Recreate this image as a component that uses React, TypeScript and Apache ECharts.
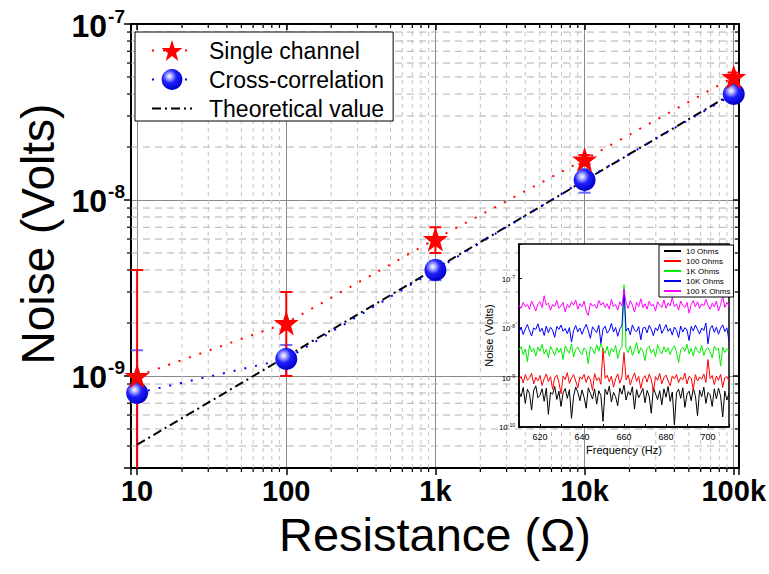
import React, { useEffect, useRef } from 'react';
import * as echarts from 'echarts';

// ---------- main plot data ----------
const resistances = [10, 100, 1000, 10000, 100000];
const singleChannel = [1.0e-9, 2.0e-9, 6.0e-9, 1.7e-8, 5.0e-8];
const singleChannelErr = [3.0e-9, 1.0e-9, 1.0e-9, 1.0e-9, 3.0e-9];
const crossCorrelation = [8.0e-10, 1.25e-9, 4.0e-9, 1.3e-8, 4.0e-8];
const crossCorrelationErr = [6.0e-10, 2.5e-10, 5.0e-10, 2.0e-9, 2.0e-9];
const theoretical = [4.07e-10, 1.29e-9, 4.07e-9, 1.29e-8, 4.07e-8];

const xTickValues = [10, 100, 1000, 10000, 100000];
const xTickLabels = ['10', '100', '1k', '10k', '100k'];
const minorMultipliers = [2, 3, 4, 5, 6, 7, 8, 9];
const xDecades = [1, 10, 100, 1000, 10000];
const yDecades = [1e-10, 1e-9, 1e-8];

const X_MIN = 9.1;
const X_MAX = 1.085e5;
const Y_MIN = 3e-10;
const Y_MAX = 1e-7;

// ---------- inset data (Noise vs frequency) ----------
const insetFreqStart = 610;
const insetFreqStep = 1;
const insetNames = ['10 Ohms', '100 Ohms', '1K Ohms', '10K Ohms', '100 K Ohms'];
const insetColors = ['#000000', '#ff0000', '#00ee00', '#0000ff', '#ff00ff'];
// units: 1e-10 V
const noise10Ohm = [
  5.2, 4.1, 6.3, 3.0, 5.8, 4.7, 2.2, 5.5, 6.8, 3.9,
  4.4, 5.9, 3.3, 6.1, 1.8, 5.0, 4.6, 6.6, 3.6, 5.3,
  2.6, 4.9, 6.0, 3.8, 5.7, 1.5, 4.2, 6.4, 5.1, 3.4,
  5.6, 4.0, 2.4, 6.2, 4.8, 3.7, 5.9, 2.9, 5.4, 4.3,
  1.3, 5.8, 4.5, 6.7, 3.2, 5.0, 4.1, 2.7, 6.1, 4.6,
  7.0, 3.5, 5.2, 4.4, 6.5, 2.3, 5.7, 3.9, 4.8, 6.0,
  3.1, 5.5, 4.2, 1.9, 6.3, 4.7, 3.6, 5.4, 2.8, 5.9,
  4.0, 6.6, 3.3, 5.1, 1.1, 4.9, 5.8, 3.8, 6.2, 2.5,
  4.6, 5.3, 3.4, 6.0, 4.3, 1.7, 5.6, 4.1, 6.4, 3.0,
  5.0, 4.5, 2.6, 5.9, 3.7, 6.1, 4.2, 1.6, 5.3, 3.5, 4.8,
];
// units: 1e-9 V
const noise100Ohm = [
  0.92, 1.05, 0.78, 1.15, 0.88, 0.97, 1.22, 0.74, 1.01, 0.86,
  1.10, 0.69, 0.95, 1.18, 0.83, 1.04, 0.58, 0.99, 1.12, 0.80,
  0.47, 1.07, 0.91, 1.25, 0.76, 0.98, 1.14, 0.85, 0.62, 1.03,
  0.93, 1.16, 0.79, 1.08, 0.90, 0.55, 1.20, 0.87, 1.00, 0.73,
  3.90, 0.96, 1.11, 0.82, 1.06, 0.64, 0.94, 1.19, 0.77, 1.02,
  3.20, 0.89, 1.13, 0.71, 0.97, 1.24, 0.84, 1.05, 0.60, 0.95,
  1.09, 0.81, 1.17, 0.92, 0.52, 1.04, 0.88, 1.21, 0.75, 0.99,
  1.12, 0.86, 0.68, 1.08, 0.94, 1.15, 0.79, 1.01, 0.90, 1.23,
  0.74, 1.06, 0.97, 0.57, 1.14, 0.85, 1.03, 0.92, 1.18, 0.80,
  2.30, 0.95, 1.10, 0.72, 1.07, 0.88, 1.16, 0.63, 0.99, 1.05, 0.84,
];
// units: 1e-9 V
const noise1kOhm = [
  3.6, 4.2, 2.9, 3.8, 2.1, 4.5, 3.3, 3.9, 2.7, 4.1,
  3.4, 4.7, 3.0, 3.7, 2.5, 4.3, 3.5, 2.8, 4.0, 3.2,
  3.9, 2.3, 4.4, 3.6, 3.1, 4.8, 2.6, 3.7, 4.1, 3.3,
  2.9, 4.0, 3.5, 1.9, 4.2, 3.8, 3.0, 4.6, 3.4, 4.9,
  3.7, 3.1, 4.3, 2.7, 3.9, 3.3, 4.5, 2.4, 3.6, 4.1,
  75, 3.8, 3.2, 4.4, 2.8, 3.6, 5.1, 3.0, 4.0, 3.4,
  2.2, 3.9, 4.3, 3.1, 3.7, 2.6, 4.6, 3.5, 3.0, 4.2,
  3.3, 4.0, 2.9, 3.8, 4.4, 3.2, 2.0, 3.6, 4.1, 3.4,
  4.7, 3.0, 3.9, 2.7, 4.2, 3.5, 3.1, 4.5, 2.8, 3.7,
  4.0, 3.3, 2.5, 4.3, 3.6, 3.9, 1.7, 4.1, 3.2, 3.8, 3.5,
];
// units: 1e-9 V
const noise10kOhm = [
  8.2, 10.5, 7.4, 9.6, 11.8, 8.8, 6.9, 10.1, 9.3, 12.2,
  8.5, 9.9, 7.1, 11.0, 8.0, 10.4, 9.1, 6.5, 10.8, 9.4,
  11.5, 8.6, 9.8, 7.7, 10.2, 5.2, 9.0, 11.2, 8.4, 10.0,
  7.5, 9.7, 11.9, 8.9, 6.2, 10.6, 9.2, 8.1, 11.4, 4.9,
  9.5, 10.9, 7.9, 9.0, 12.4, 8.3, 10.3, 6.8, 9.6, 11.1,
  60, 8.7, 10.0, 7.3, 11.6, 9.1, 8.4, 10.7, 5.8, 9.9,
  10.4, 8.0, 11.3, 9.4, 7.0, 10.1, 8.8, 12.0, 7.8, 9.5,
  11.7, 8.6, 9.8, 7.2, 10.5, 9.0, 6.4, 11.0, 8.3, 10.2,
  9.1, 5.6, 10.8, 8.7, 11.5, 9.3, 7.6, 10.0, 8.9, 12.6,
  4.8, 9.7, 11.2, 8.2, 10.4, 7.5, 9.9, 11.6, 8.5, 10.1, 5.5,
];
// units: 1e-8 V
const noise100kOhm = [
  2.9, 2.5, 3.3, 2.7, 3.0, 2.4, 3.5, 2.8, 2.2, 3.1,
  3.4, 2.6, 4.5, 2.9, 3.2, 2.3, 3.0, 2.7, 3.6, 2.5,
  2.8, 3.3, 2.1, 3.0, 2.6, 3.4, 2.9, 3.7, 2.4, 3.1,
  2.7, 3.5, 2.2, 1.8, 3.2, 2.8, 3.0, 2.5, 3.6, 2.9,
  3.3, 2.6, 3.1, 2.4, 3.8, 2.7, 3.0, 2.3, 3.4, 2.8,
  6.0, 3.2, 2.5, 3.6, 2.9, 2.1, 3.3, 2.7, 3.9, 2.6,
  3.1, 2.4, 3.5, 2.8, 3.0, 2.2, 3.4, 2.9, 2.6, 3.7,
  2.5, 3.2, 2.8, 4.2, 2.7, 3.1, 2.3, 3.5, 2.9, 2.6,
  3.3, 2.0, 3.0, 3.6, 2.7, 3.4, 2.5, 3.1, 2.8, 3.8,
  2.9, 2.4, 3.2, 2.7, 3.5, 2.2, 3.0, 4.4, 2.6, 3.3, 2.8,
];
const insetSeriesValues = [noise10Ohm, noise100Ohm, noise1kOhm, noise10kOhm, noise100kOhm];
const insetUnits = [1e-10, 1e-9, 1e-9, 1e-9, 1e-8];

const INSET_X_MIN = 610;
const INSET_X_MAX = 710;
const INSET_Y_MIN = 1e-10;
const INSET_Y_MAX = 5e-7;

const FONT = "'Liberation Sans', Arial, Helvetica, sans-serif";
const STAR = 'path://M50,0 L61.8,35.1 L98.5,35.1 L68.8,56.8 L79.4,91.5 L50,70 L20.6,91.5 L31.2,56.8 L1.5,35.1 L38.2,35.1 Z';

const isPow10 = (v: number) => {
  const l = Math.log10(v);
  return Math.abs(l - Math.round(l)) < 1e-6;
};

export default function App() {
  const ref = useRef<HTMLDivElement>(null);

  useEffect(() => {
    document.body.style.margin = '0';
    if (!ref.current) return;
    const chart = echarts.init(ref.current, undefined, { renderer: 'svg' });

    const xMinor = xDecades
      .flatMap((d) => minorMultipliers.map((m) => m * d))
      .filter((v) => v > X_MIN * 1.001 && v < X_MAX * 0.999);
    const yMinor = yDecades
      .flatMap((d) => minorMultipliers.map((m) => m * d))
      .filter((v) => v > Y_MIN * 1.001 && v < Y_MAX * 0.999);

    const sphere = new echarts.graphic.RadialGradient(0.38, 0.35, 0.65, [
      { offset: 0, color: '#ffffff' },
      { offset: 0.18, color: '#b8b8ff' },
      { offset: 0.5, color: '#2020ff' },
      { offset: 1, color: '#0000c8' },
    ]);

    const errorBars = (name: string, vals: number[], errs: number[], color: string, capColor: string, z: number) => ({
      type: 'custom',
      name,
      xAxisIndex: 0,
      yAxisIndex: 0,
      z,
      silent: true,
      data: resistances.map((r, i) => [r, vals[i], errs[i]]),
      renderItem: (_p: any, api: any) => {
        const x = api.value(0);
        const y = api.value(1);
        const e = api.value(2);
        const hi = y + e;
        const loRaw = y - e;
        const clipped = loRaw <= Y_MIN;
        const lo = clipped ? Y_MIN : loRaw;
        const pHi = api.coord([x, hi]);
        const pLo = api.coord([x, lo]);
        const hw = 6;
        const children: any[] = [
          { type: 'line', shape: { x1: pHi[0], y1: pHi[1], x2: pLo[0], y2: pLo[1] }, style: { stroke: color, lineWidth: 2 } },
          { type: 'line', shape: { x1: pHi[0] - hw, y1: pHi[1], x2: pHi[0] + hw, y2: pHi[1] }, style: { stroke: capColor, lineWidth: 2 } },
        ];
        if (!clipped) {
          children.push({ type: 'line', shape: { x1: pLo[0] - hw, y1: pLo[1], x2: pLo[0] + hw, y2: pLo[1] }, style: { stroke: capColor, lineWidth: 2 } });
        }
        return { type: 'group', children };
      },
    });

    const insetSeries = insetSeriesValues.map((vals, k) => ({
      type: 'line',
      name: insetNames[k],
      xAxisIndex: 2,
      yAxisIndex: 2,
      symbol: 'none',
      z: 8,
      silent: true,
      lineStyle: { color: insetColors[k], width: 1 },
      itemStyle: { color: insetColors[k] },
      data: vals.map((v, i) => [insetFreqStart + i * insetFreqStep, v * insetUnits[k]]),
    }));

    const option: any = {
      animation: false,
      backgroundColor: '#ffffff',
      textStyle: { fontFamily: FONT },
      grid: [
        { left: 131, top: 24, width: 612, height: 444 },
        { left: 519, top: 244, width: 210, height: 183, show: true, backgroundColor: '#ffffff', borderColor: '#000', borderWidth: 1.5, z: 6 },
      ],
      legend: [
        {
          data: [
            { name: 'Single channel' },
            { name: 'Cross-correlation' },
            { name: 'Theoretical value', itemStyle: { opacity: 0 } },
          ],
          left: 135,
          top: 32,
          orient: 'vertical',
          itemWidth: 40,
          itemHeight: 26,
          itemGap: 6,
          padding: [7, 9, 1, 16],
          borderColor: '#000',
          borderWidth: 1,
          backgroundColor: '#ffffff',
          selectedMode: false,
          z: 10,
          textStyle: { fontSize: 23, color: '#000', fontFamily: FONT, padding: [0, 0, 0, 12] },
        },
        {
          data: insetNames,
          left: 659,
          top: 245,
          orient: 'vertical',
          itemWidth: 17,
          itemHeight: 8,
          itemGap: 2,
          padding: [2, 3, 2, 4],
          borderColor: '#000',
          borderWidth: 1,
          backgroundColor: '#ffffff',
          selectedMode: false,
          itemStyle: { opacity: 0 },
          z: 12,
          textStyle: { fontSize: 8, color: '#000', fontFamily: FONT },
        },
      ],
      xAxis: [
        {
          type: 'log',
          gridIndex: 0,
          position: 'bottom',
          min: X_MIN,
          max: X_MAX,
          axisLine: { lineStyle: { color: '#000', width: 2 } },
          axisTick: { inside: false, length: 7, lineStyle: { color: '#000', width: 1.5 } },
          axisLabel: {
            margin: 8,
            color: '#000',
            fontSize: 29,
            fontWeight: 'bold',
            fontFamily: FONT,
            formatter: (v: number) => {
              const i = xTickValues.findIndex((t) => Math.abs(t - v) / t < 1e-6);
              return i >= 0 ? xTickLabels[i] : '';
            },
          },
          splitLine: { show: true, lineStyle: { color: '#8a8a8a', width: 1 } },
          name: 'Resistance (Ω)',
          nameLocation: 'middle',
          nameGap: 43,
          nameTextStyle: { fontSize: 47, color: '#000', fontFamily: FONT },
        },
        {
          type: 'log',
          gridIndex: 0,
          position: 'top',
          min: X_MIN,
          max: X_MAX,
          axisLine: { lineStyle: { color: '#000', width: 2 } },
          axisTick: { inside: true, length: 6, lineStyle: { color: '#000', width: 1.5 } },
          axisLabel: { show: false },
          splitLine: { show: false },
        },
        {
          type: 'value',
          gridIndex: 1,
          min: INSET_X_MIN,
          max: INSET_X_MAX,
          interval: 10,
          z: 7,
          axisLine: { lineStyle: { color: '#000', width: 1.5 } },
          axisTick: { inside: true, length: 3, lineStyle: { color: '#000', width: 1 } },
          axisLabel: {
            margin: 5,
            color: '#000',
            fontSize: 9,
            fontFamily: FONT,
            formatter: (v: number) => (v % 20 === 0 ? String(v) : ''),
          },
          splitLine: { show: false },
          name: 'Frequency (Hz)',
          nameLocation: 'middle',
          nameGap: 17,
          nameTextStyle: { fontSize: 11, color: '#000', fontFamily: FONT },
        },
      ],
      yAxis: [
        {
          type: 'log',
          gridIndex: 0,
          position: 'left',
          min: Y_MIN,
          max: Y_MAX,
          axisLine: { lineStyle: { color: '#000', width: 2 } },
          axisTick: { inside: false, length: 7, lineStyle: { color: '#000', width: 1.5 } },
          axisLabel: {
            margin: 6,
            color: '#000',
            formatter: (v: number) => (isPow10(v) ? `{b|10}{s|${Math.round(Math.log10(v))}}` : ''),
            rich: {
              b: { fontSize: 32, fontWeight: 'bold', fontFamily: FONT, color: '#000', verticalAlign: 'bottom' },
              s: { fontSize: 19, fontWeight: 'bold', fontFamily: FONT, color: '#000', verticalAlign: 'bottom', padding: [0, 0, 16, 1] },
            },
          },
          splitLine: { show: true, lineStyle: { color: '#8a8a8a', width: 1 } },
          name: 'Noise (Volts)',
          nameLocation: 'middle',
          nameGap: 67,
          nameTextStyle: { fontSize: 46, color: '#000', fontFamily: FONT, padding: [0, 0, 0, 24] },
        },
        {
          type: 'log',
          gridIndex: 0,
          position: 'right',
          min: Y_MIN,
          max: Y_MAX,
          axisLine: { lineStyle: { color: '#000', width: 2 } },
          axisTick: { inside: true, length: 6, lineStyle: { color: '#000', width: 1.5 } },
          axisLabel: { show: false },
          splitLine: { show: false },
        },
        {
          type: 'log',
          gridIndex: 1,
          min: INSET_Y_MIN,
          max: INSET_Y_MAX,
          z: 7,
          axisLine: { lineStyle: { color: '#000', width: 1.5 } },
          axisTick: { inside: true, length: 3, lineStyle: { color: '#000', width: 1 } },
          axisLabel: {
            margin: 4,
            color: '#000',
            formatter: (v: number) => (isPow10(v) ? `{b|10}{s|${Math.round(Math.log10(v))}}` : ''),
            rich: {
              b: { fontSize: 8, fontFamily: FONT, color: '#000', verticalAlign: 'bottom' },
              s: { fontSize: 5, fontFamily: FONT, color: '#000', verticalAlign: 'bottom', padding: [0, 0, 4, 0] },
            },
          },
          splitLine: { show: false },
          name: 'Noise (Volts)',
          nameLocation: 'middle',
          nameGap: 22,
          nameTextStyle: { fontSize: 11, color: '#000', fontFamily: FONT },
        },
      ],
      series: [
        {
          type: 'custom',
          name: 'xMinorGrid',
          xAxisIndex: 0,
          yAxisIndex: 0,
          z: 1,
          silent: true,
          data: xMinor.map((v) => [v, Y_MIN]),
          renderItem: (_p: any, api: any) => {
            const v = api.value(0);
            const t = api.coord([v, Y_MAX]);
            const b = api.coord([v, Y_MIN]);
            return {
              type: 'group',
              children: [
                { type: 'line', shape: { x1: t[0], y1: t[1], x2: b[0], y2: b[1] }, style: { stroke: '#c4c4c4', lineWidth: 1, lineDash: [4, 4] } },
                { type: 'line', shape: { x1: b[0], y1: b[1], x2: b[0], y2: b[1] + 4 }, style: { stroke: '#000', lineWidth: 1.2 } },
                { type: 'line', shape: { x1: t[0], y1: t[1], x2: t[0], y2: t[1] + 4 }, style: { stroke: '#000', lineWidth: 1.2 } },
              ],
            };
          },
        },
        {
          type: 'custom',
          name: 'yMinorGrid',
          xAxisIndex: 0,
          yAxisIndex: 0,
          z: 1,
          silent: true,
          data: yMinor.map((v) => [X_MIN, v]),
          renderItem: (_p: any, api: any) => {
            const v = api.value(1);
            const l = api.coord([X_MIN, v]);
            const r = api.coord([X_MAX, v]);
            return {
              type: 'group',
              children: [
                { type: 'line', shape: { x1: l[0], y1: l[1], x2: r[0], y2: r[1] }, style: { stroke: '#b0b0b0', lineWidth: 1, lineDash: [7, 5] } },
                { type: 'line', shape: { x1: l[0] - 4, y1: l[1], x2: l[0], y2: l[1] }, style: { stroke: '#000', lineWidth: 1.2 } },
                { type: 'line', shape: { x1: r[0] - 4, y1: r[1], x2: r[0], y2: r[1] }, style: { stroke: '#000', lineWidth: 1.2 } },
              ],
            };
          },
        },
        errorBars('Cross-correlation error', crossCorrelation, crossCorrelationErr, '#4040ff', '#6a6aff', 2),
        errorBars('Single channel error', singleChannel, singleChannelErr, '#ff0000', '#ff0000', 3),
        {
          type: 'line',
          name: 'Cross-correlation',
          xAxisIndex: 0,
          yAxisIndex: 0,
          z: 4,
          data: resistances.map((r, i) => [r, crossCorrelation[i]]),
          symbol: 'circle',
          symbolSize: 22,
          itemStyle: { color: sphere },
          lineStyle: { color: '#0000ff', width: 2, type: [2, 9] },
        },
        {
          type: 'line',
          name: 'Theoretical value',
          xAxisIndex: 0,
          yAxisIndex: 0,
          z: 3,
          data: resistances.map((r, i) => [r, theoretical[i]]),
          symbol: 'none',
          itemStyle: { color: '#000' },
          lineStyle: { color: '#000', width: 2, type: [9, 4, 2, 4] },
        },
        {
          type: 'line',
          name: 'Single channel',
          xAxisIndex: 0,
          yAxisIndex: 0,
          z: 5,
          data: resistances.map((r, i) => [r, singleChannel[i]]),
          symbol: STAR,
          symbolSize: 25,
          itemStyle: { color: '#ff0000' },
          lineStyle: { color: '#ff0000', width: 2, type: [2, 9] },
        },
        ...insetSeries,
      ],
    };

    chart.setOption(option);
    return () => chart.dispose();
  }, []);

  return <div ref={ref} style={{ width: 769, height: 574 }} />;
}
